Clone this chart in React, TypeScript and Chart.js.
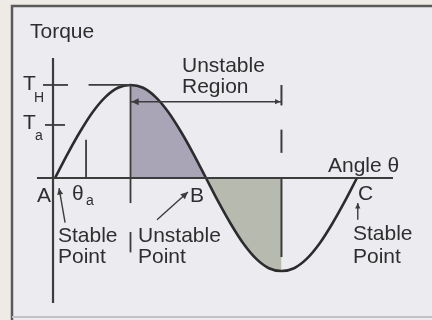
import React, { useEffect, useRef } from "react";
import { Chart, registerables } from "chart.js";

Chart.register(...registerables);

// Load angle (degrees) and torque (fraction of pull-out torque T_H)
const ANGLES = [0, 15, 30, 45, 60, 75, 90, 105, 120, 135, 150, 165, 180, 195, 210, 225, 240, 255, 270, 285, 300, 315, 330, 345, 360];
const TORQUE = [0, 0.26, 0.5, 0.71, 0.87, 0.97, 1, 0.97, 0.87, 0.71, 0.5, 0.26, 0, -0.26, -0.5, -0.71, -0.87, -0.97, -1, -0.97, -0.87, -0.71, -0.5, -0.26, 0];

// Reference levels and angles
const T_H = 1.0;
const T_A = 0.57;
const THETA_A = 37;
const POINT_A = 0;
const POINT_B = 180;
const POINT_C = 360;
const REGION_START = 90;
const REGION_END = 270;

// Axis ranges
const X_MIN = -21.5;
const X_MAX = 403;
const Y_MIN = -1.344;
const Y_MAX = 1.29;
const Y_AXIS_AT = -2.4;

const FONT = "21px 'Liberation Sans', Arial, sans-serif";
const SUB_FONT = "14px 'Liberation Sans', Arial, sans-serif";
const INK = "#2e2e2e";

const pts = (from: number, to: number) =>
  ANGLES.map((a, i) => ({ x: a, y: TORQUE[i] })).filter((p) => p.x >= from && p.x <= to);

function arrowHead(ctx: CanvasRenderingContext2D, x: number, y: number, ang: number, size: number) {
  ctx.beginPath();
  ctx.moveTo(x, y);
  ctx.lineTo(x - size * Math.cos(ang - 0.45), y - size * Math.sin(ang - 0.45));
  ctx.lineTo(x - size * Math.cos(ang + 0.45), y - size * Math.sin(ang + 0.45));
  ctx.closePath();
  ctx.fill();
}

const decorPlugin = {
  id: "decor",
  beforeDraw(chart: any) {
    const ctx = chart.ctx as CanvasRenderingContext2D;
    ctx.save();
    ctx.fillStyle = "#eeebe7";
    ctx.fillRect(0, 0, chart.width, chart.height);
    ctx.fillStyle = "#ecebf0";
    ctx.fillRect(12, 6, chart.width - 12, chart.height - 6);
    ctx.strokeStyle = "#5a5a5a";
    ctx.lineWidth = 2.5;
    ctx.beginPath();
    ctx.moveTo(chart.width, 6);
    ctx.lineTo(12, 6);
    ctx.lineTo(12, chart.height);
    ctx.stroke();
    ctx.strokeStyle = "#c4c2c6";
    ctx.lineWidth = 2;
    ctx.beginPath();
    ctx.moveTo(12, 317);
    ctx.lineTo(chart.width, 317);
    ctx.stroke();
    ctx.restore();
  },
  afterDatasetsDraw(chart: any) {
    const ctx = chart.ctx as CanvasRenderingContext2D;
    const xs = chart.scales.x;
    const ys = chart.scales.y;
    const X = (v: number) => xs.getPixelForValue(v);
    const Y = (v: number) => ys.getPixelForValue(v);
    const line = (x1: number, y1: number, x2: number, y2: number, w = 2) => {
      ctx.lineWidth = w;
      ctx.beginPath();
      ctx.moveTo(x1, y1);
      ctx.lineTo(x2, y2);
      ctx.stroke();
    };
    ctx.save();
    ctx.strokeStyle = "#3c3c3c";
    ctx.fillStyle = "#3c3c3c";
    ctx.lineCap = "butt";

    // axes
    line(xs.left, Y(0), xs.right, Y(0), 2.2);
    line(X(Y_AXIS_AT), ys.top, X(Y_AXIS_AT), ys.bottom, 2.2);

    // level ticks
    const ax = X(Y_AXIS_AT);
    line(ax - 10, Y(T_H), ax + 15, Y(T_H), 1.8);
    line(ax - 8, Y(T_A), ax + 12, Y(T_A), 1.8);
    // T_H dashed level to peak
    line(X(40), Y(T_H), X(REGION_START), Y(T_H), 1.8);
    // theta_a marker
    line(X(THETA_A), Y(0), X(THETA_A), Y(0.41), 1.8);

    // vertical at start of region
    line(X(REGION_START), Y(T_H), X(REGION_START), Y(-0.27), 1.8);
    line(X(REGION_START), Y(-0.58), X(REGION_START), Y(-0.8), 1.8);
    // vertical at end of region
    line(X(REGION_END), Y(1.0), X(REGION_END), Y(0.78), 2);
    line(X(REGION_END), Y(0.52), X(REGION_END), Y(0.27), 2);
    line(X(REGION_END), Y(0), X(REGION_END), Y(-0.85), 2);

    // unstable region arrow
    const ry = Y(0.82);
    line(X(REGION_START), ry, X(REGION_END), ry, 1.6);
    arrowHead(ctx, X(REGION_START) + 1, ry, Math.PI, 8);
    arrowHead(ctx, X(REGION_END) - 1, ry, 0, 6);

    // pointer arrows
    const sx1 = X(12), sy1 = Y(-0.48), sx2 = X(4.8), sy2 = Y(-0.11);
    line(sx1, sy1, sx2, sy2, 1.4);
    arrowHead(ctx, sx2, sy2, Math.atan2(sy2 - sy1, sx2 - sx1), 7);
    const ux1 = X(121.6), uy1 = Y(-0.45), ux2 = X(158.5), uy2 = Y(-0.15);
    line(ux1, uy1, ux2, uy2, 1.4);
    arrowHead(ctx, ux2, uy2, Math.atan2(uy2 - uy1, ux2 - ux1), 8);
    const cx1 = X(POINT_C + 1), cy1 = Y(-0.45), cy2 = Y(-0.27);
    line(cx1, cy1, cx1, cy2, 1.4);
    arrowHead(ctx, cx1, cy2, -Math.PI / 2, 6);

    // texts
    ctx.fillStyle = INK;
    ctx.textBaseline = "alphabetic";
    ctx.textAlign = "left";
    ctx.font = FONT;
    const t = (s: string, x: number, y: number) => ctx.fillText(s, x, y);
    t("Torque", 30, 38);
    t("T", 23, 90);
    t("T", 23, 129);
    t("Unstable", 182, 72);
    t("Region", 182, 93);
    t("Angle \u03b8", 328, 172);
    t("A", 37, 202);
    t("\u03b8", 72, 200);
    t("B", 190, 202);
    t("C", 358, 200);
    t("Stable", 58, 242);
    t("Point", 58, 263);
    t("Unstable", 138, 242);
    t("Point", 138, 263);
    t("Stable", 353, 240);
    t("Point", 353, 263);
    ctx.font = SUB_FONT;
    t("H", 34, 102);
    t("a", 35, 140);
    t("a", 86, 205);
    ctx.restore();
  },
};

export default function App() {
  const ref = useRef<HTMLCanvasElement>(null);
  useEffect(() => {
    if (!ref.current) return;
    const curve = pts(POINT_A, POINT_C);
    const chart = new Chart(ref.current, {
      type: "scatter",
      data: {
        datasets: [
          {
            data: curve,
            showLine: true,
            borderColor: "#2c2c2c",
            borderWidth: 2.6,
            pointRadius: 0,
            cubicInterpolationMode: "monotone",
            fill: false,
          },
          {
            data: pts(REGION_START, POINT_B),
            showLine: true,
            borderWidth: 0,
            borderColor: "rgba(0,0,0,0)",
            pointRadius: 0,
            cubicInterpolationMode: "monotone",
            backgroundColor: "#a9a5b6",
            fill: "origin",
          },
          {
            data: pts(POINT_B, REGION_END),
            showLine: true,
            borderWidth: 0,
            borderColor: "rgba(0,0,0,0)",
            pointRadius: 0,
            cubicInterpolationMode: "monotone",
            backgroundColor: "#b7baaf",
            fill: "origin",
          },
        ],
      } as any,
      options: {
        animation: false,
        responsive: false,
        maintainAspectRatio: false,
        layout: { padding: { left: 37, right: 39, top: 58, bottom: 17 } },
        plugins: { legend: { display: false }, tooltip: { enabled: false }, title: { display: false } },
        scales: {
          x: { type: "linear", min: X_MIN, max: X_MAX, display: false },
          y: { type: "linear", min: Y_MIN, max: Y_MAX, display: false },
        },
      } as any,
      plugins: [decorPlugin],
    });
    return () => chart.destroy();
  }, []);
  return (
    <div style={{ position: "fixed", left: 0, top: 0, width: 432, height: 320 }}>
      <canvas ref={ref} width={432} height={320} style={{ display: "block", width: 432, height: 320 }} />
    </div>
  );
}
